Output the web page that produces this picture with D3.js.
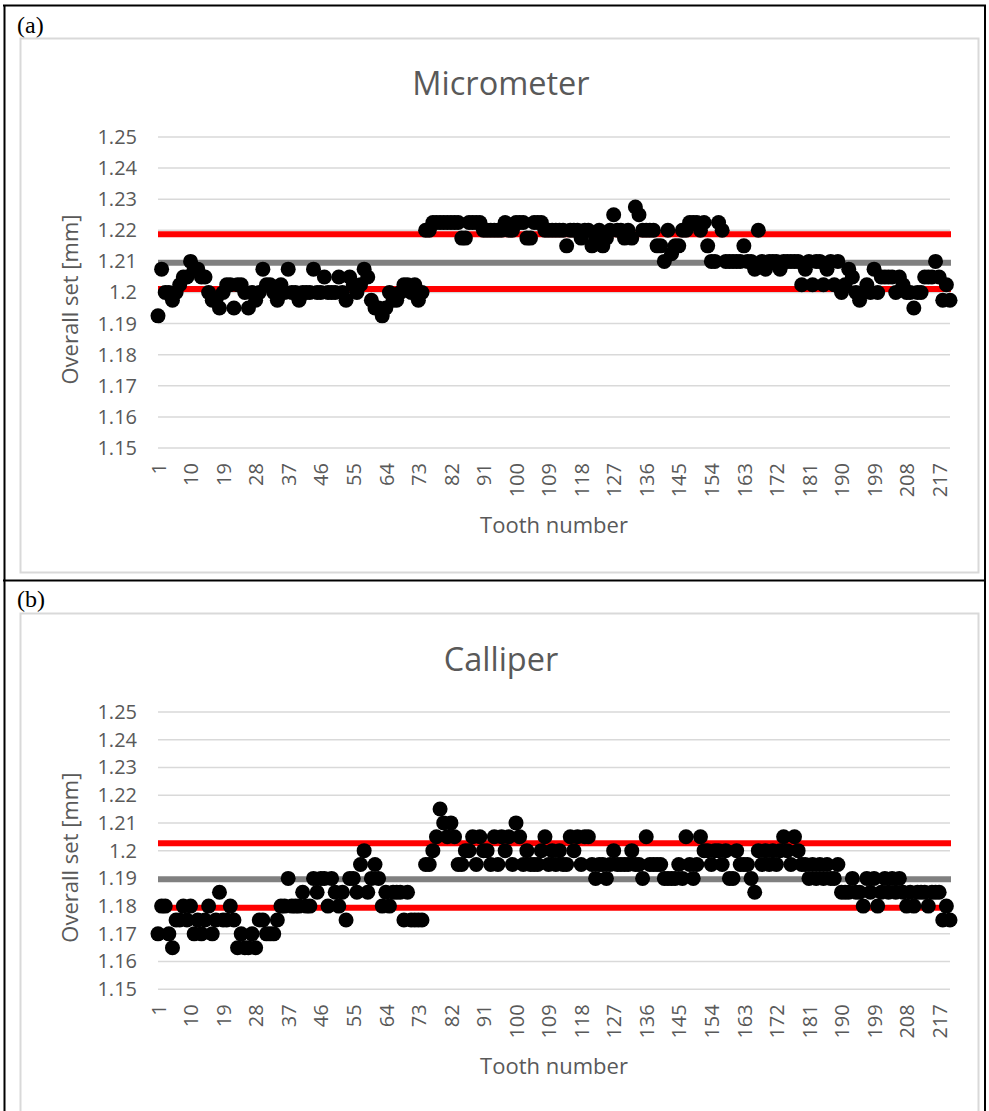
<!DOCTYPE html>
<html><head><meta charset="utf-8">
<script src="https://cdn.jsdelivr.net/npm/d3@7"></script>
<style>body{margin:0;background:#fff}svg{display:block}</style>
</head><body>
<script>
const teeth = d3.range(1, 221);
const xTickLabels = d3.range(1, 221, 9);
const yTickValues = [1.15,1.16,1.17,1.18,1.19,1.2,1.21,1.22,1.23,1.24,1.25];

const micrometer = [
1.1925,1.2075,1.2,1.2,1.1975,1.2,1.2025,1.205,1.205,1.21,
1.2075,1.2075,1.205,1.205,1.2,1.1975,1.1975,1.195,1.2,1.2025,
1.2025,1.195,1.2025,1.2025,1.2,1.195,1.2,1.1975,1.2,1.2075,
1.2025,1.2025,1.2,1.1975,1.2025,1.2,1.2075,1.2,1.2,1.1975,
1.2,1.2,1.2,1.2075,1.2,1.2,1.205,1.2,1.2,1.2,
1.205,1.2,1.1975,1.205,1.2025,1.2,1.2025,1.2075,1.205,1.1975,
1.195,1.195,1.1925,1.195,1.2,1.1975,1.1975,1.2,1.2025,1.2025,
1.2,1.2025,1.1975,1.2,1.22,1.22,1.2225,1.2225,1.2225,1.2225,
1.2225,1.2225,1.2225,1.2225,1.2175,1.2175,1.2225,1.2225,1.2225,1.2225,
1.22,1.22,1.22,1.22,1.22,1.22,1.2225,1.22,1.22,1.2225,
1.2225,1.2225,1.2175,1.2175,1.2225,1.2225,1.2225,1.22,1.22,1.22,
1.22,1.22,1.22,1.215,1.22,1.22,1.22,1.2175,1.22,1.22,
1.215,1.2175,1.22,1.215,1.2175,1.22,1.225,1.22,1.22,1.2175,
1.22,1.2175,1.2275,1.225,1.22,1.22,1.22,1.22,1.215,1.215,
1.21,1.22,1.2125,1.215,1.215,1.22,1.22,1.2225,1.2225,1.2225,
1.22,1.2225,1.215,1.21,1.21,1.2225,1.22,1.21,1.21,1.21,
1.21,1.21,1.215,1.21,1.21,1.2075,1.22,1.21,1.2075,1.21,
1.21,1.21,1.2075,1.21,1.21,1.21,1.21,1.21,1.2025,1.2075,
1.21,1.2025,1.21,1.21,1.2025,1.2075,1.21,1.2025,1.21,1.2,
1.2025,1.2075,1.205,1.2,1.1975,1.2,1.2025,1.2,1.2075,1.2,
1.205,1.205,1.205,1.205,1.2,1.205,1.2025,1.2,1.2,1.195,
1.2,1.2,1.205,1.205,1.205,1.21,1.205,1.1975,1.2025,1.1975
];

const calliper = [
1.17,1.18,1.18,1.17,1.165,1.175,1.175,1.18,1.175,1.18,
1.17,1.175,1.17,1.175,1.18,1.17,1.175,1.185,1.175,1.175,
1.18,1.175,1.165,1.17,1.165,1.165,1.17,1.165,1.175,1.175,
1.17,1.17,1.17,1.175,1.18,1.18,1.19,1.18,1.18,1.18,
1.185,1.18,1.18,1.19,1.185,1.19,1.19,1.18,1.19,1.185,
1.18,1.185,1.175,1.19,1.19,1.185,1.195,1.2,1.185,1.19,
1.195,1.19,1.18,1.185,1.18,1.185,1.185,1.185,1.175,1.185,
1.175,1.175,1.175,1.175,1.195,1.195,1.2,1.205,1.215,1.21,
1.205,1.21,1.205,1.195,1.195,1.2,1.2,1.205,1.195,1.205,
1.2,1.2,1.195,1.205,1.195,1.205,1.2,1.205,1.195,1.21,
1.205,1.195,1.2,1.195,1.195,1.195,1.2,1.205,1.195,1.2,
1.195,1.2,1.195,1.195,1.205,1.2,1.205,1.195,1.205,1.205,
1.195,1.19,1.195,1.195,1.19,1.195,1.2,1.195,1.195,1.195,
1.195,1.2,1.195,1.195,1.19,1.205,1.195,1.195,1.195,1.195,
1.19,1.19,1.19,1.19,1.195,1.19,1.205,1.195,1.19,1.195,
1.205,1.2,1.2,1.195,1.2,1.2,1.195,1.2,1.19,1.19,
1.2,1.195,1.195,1.195,1.19,1.185,1.2,1.195,1.2,1.195,
1.2,1.195,1.2,1.205,1.2,1.195,1.205,1.2,1.195,1.195,
1.19,1.195,1.19,1.195,1.19,1.195,1.19,1.19,1.195,1.185,
1.185,1.185,1.19,1.185,1.185,1.18,1.19,1.185,1.19,1.18,
1.185,1.19,1.185,1.19,1.185,1.19,1.185,1.18,1.185,1.18,
1.185,1.185,1.185,1.18,1.185,1.185,1.185,1.175,1.18,1.175
];

const micrometerRefs = {mean: 1.2096, upper: 1.2187, lower: 1.2011};
const calliperRefs = {mean: 1.1897, upper: 1.2027, lower: 1.1794};

const W = 989, H = 1111;
const svg = d3.select("body").append("svg").attr("width", W).attr("height", H);
svg.append("rect").attr("width", W).attr("height", H).attr("fill", "#fff");

// table borders
const bc = "#000";
svg.append("line").attr("x1",3).attr("x2",986).attr("y1",5.5).attr("y2",5.5).attr("stroke",bc).attr("stroke-width",2);
svg.append("line").attr("x1",3).attr("x2",986).attr("y1",580.5).attr("y2",580.5).attr("stroke",bc).attr("stroke-width",2);
svg.append("line").attr("x1",4.5).attr("x2",4.5).attr("y1",5).attr("y2",H).attr("stroke",bc).attr("stroke-width",2);
svg.append("line").attr("x1",985).attr("x2",985).attr("y1",5).attr("y2",H).attr("stroke",bc).attr("stroke-width",2);

svg.append("text").attr("x",17).attr("y",33).attr("font-family","Liberation Serif").attr("font-size",24).text("(a)");
svg.append("text").attr("x",17).attr("y",607).attr("font-family","Liberation Serif").attr("font-size",24).text("(b)");

const font = "'Open Sans', 'Noto Sans', sans-serif";
const txt = "#595959";

function drawChart(cfg) {
  const g = svg.append("g");
  g.append("rect").attr("x",20.5).attr("y",cfg.frameTop).attr("width",958).attr("height",cfg.frameH)
    .attr("fill","#fff").attr("stroke","#d9d9d9").attr("stroke-width",2);
  const x = d3.scalePoint().domain(teeth).range([158, 950]);
  const y = d3.scaleLinear().domain([1.15, 1.25]).range([cfg.yBottom, cfg.yTop]);

  // gridlines
  g.append("g").selectAll("line").data(yTickValues).join("line")
    .attr("x1",158).attr("x2",950).attr("y1",d=>y(d)).attr("y2",d=>y(d))
    .attr("stroke","#d9d9d9").attr("stroke-width",1.5);

  // y axis labels
  const yAxis = d3.axisLeft(y).tickValues(yTickValues).tickSize(0).tickPadding(21)
    .tickFormat(d => d3.format("")(+d.toFixed(2)));
  const ya = g.append("g").attr("transform","translate(158,0)").call(yAxis);
  ya.select(".domain").remove();
  ya.selectAll("text").attr("font-family",font).attr("font-size",20).attr("fill",txt);

  // x axis labels
  const xAxis = d3.axisBottom(x).tickValues(xTickLabels).tickSize(0).tickPadding(0);
  const xa = g.append("g").attr("transform",`translate(0,${cfg.yBottom})`).call(xAxis);
  xa.select(".domain").remove();
  xa.selectAll("text").attr("font-family",font).attr("font-size",20).attr("fill",txt)
    .attr("text-anchor","end").attr("transform","rotate(-90)")
    .attr("x",-15).attr("y",0).attr("dy","0.36em");

  // reference lines
  const refs = [
    {v: cfg.refs.upper, c: "#ff0000"},
    {v: cfg.refs.mean, c: "#808080"},
    {v: cfg.refs.lower, c: "#ff0000"}
  ];
  g.append("g").selectAll("line").data(refs).join("line")
    .attr("x1",158).attr("x2",951).attr("y1",d=>y(d.v)).attr("y2",d=>y(d.v))
    .attr("stroke",d=>d.c).attr("stroke-width",6);

  // points
  g.append("g").selectAll("circle").data(cfg.values.map((v,i)=>({t:teeth[i], v})))
    .join("circle").attr("cx",d=>x(d.t)).attr("cy",d=>y(d.v)).attr("r",7.5).attr("fill","#000");

  // titles
  g.append("text").attr("x",501).attr("y",cfg.titleY).attr("text-anchor","middle").attr("dy","0.35em")
    .attr("font-family",font).attr("font-size",32.5).attr("fill",txt).text(cfg.title);
  g.append("text").attr("x",554).attr("y",cfg.xTitleY).attr("text-anchor","middle").attr("dy","0.35em")
    .attr("font-family",font).attr("font-size",22).attr("fill",txt).text("Tooth number");
  g.append("text").attr("transform",`translate(70,${(cfg.yTop+cfg.yBottom)/2 + 7}) rotate(-90)`)
    .attr("text-anchor","middle").attr("dy","0.35em")
    .attr("font-family",font).attr("font-size",22).attr("fill",txt).text("Overall set [mm]");
}

drawChart({frameTop:38.5, frameH:534, yTop:137, yBottom:448, titleY:84, xTitleY:525,
  title:"Micrometer", values: micrometer, refs: micrometerRefs});
drawChart({frameTop:613.5, frameH:520, yTop:712, yBottom:989.3, titleY:660, xTitleY:1066,
  title:"Calliper", values: calliper, refs: calliperRefs});
</script>
</body></html>
